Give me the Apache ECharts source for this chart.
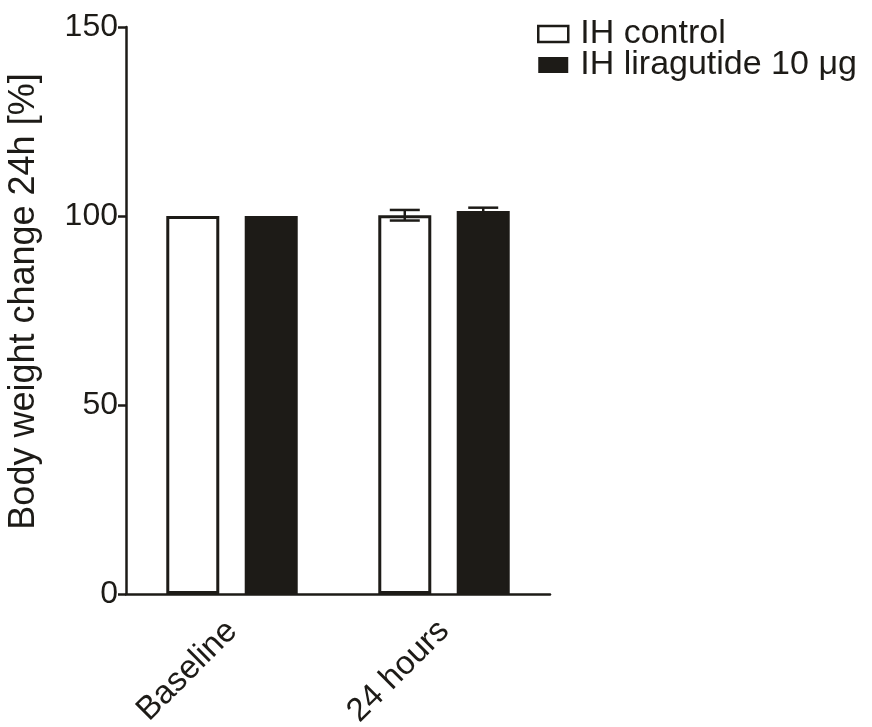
<!DOCTYPE html>
<html>
<head>
<meta charset="utf-8">
<script src="https://cdn.jsdelivr.net/npm/echarts@6/dist/echarts.min.js"></script>
<style>html,body{margin:0;padding:0;background:#fff}#c{width:872px;height:727px}</style>
</head>
<body>
<div id="c"></div>
<script>
var categories = ['Baseline', '24 hours'];
var seriesNames = ['IH control', 'IH liragutide 10 μg'];
var controlMean = [100, 100.2];
var controlErr = [0, 1.4];
var liraMean = [100, 101.3];
var liraErr = [0, 0.9];
var yTicks = [0, 50, 100, 150];

var INK = '#1d1b17';
var BAR_W = 53;
var BAR_GAP = 0.48;
var FONT = 'Liberation Sans, Arial, sans-serif';

function errSeries(name, means, errs, sign) {
  var data = means.map(function (m, i) { return [i, m, errs[i]]; });
  return {
    type: 'custom',
    name: name + ' err',
    z: 10,
    silent: true,
    data: data,
    renderItem: function (params, api) {
      var i = api.value(0), m = api.value(1), e = api.value(2);
      if (!e) return null;
      var off = sign * (BAR_W * (1 + BAR_GAP)) / 2;
      var hi = api.coord([i, m + e]);
      var lo = api.coord([i, m - e]);
      var x = hi[0] + off;
      var cap = 15;
      return {
        type: 'group',
        children: [
          {type: 'line', shape: {x1: x, y1: hi[1], x2: x, y2: lo[1]}, style: {stroke: INK, lineWidth: 2.5}},
          {type: 'line', shape: {x1: x - cap, y1: hi[1], x2: x + cap, y2: hi[1]}, style: {stroke: INK, lineWidth: 2.5}},
          {type: 'line', shape: {x1: x - cap, y1: lo[1], x2: x + cap, y2: lo[1]}, style: {stroke: INK, lineWidth: 2.5}}
        ]
      };
    }
  };
}

var chart = echarts.init(document.getElementById('c'), null, {renderer: 'canvas'});
chart.setOption({
  animation: false,
  textStyle: {fontFamily: FONT},
  grid: {left: 126, right: 322, top: 27, bottom: 133, containLabel: false, outerBoundsMode: 'none'},
  legend: {
    orient: 'vertical',
    left: 532,
    top: 12,
    itemWidth: 30,
    itemHeight: 16,
    itemGap: -3,
    icon: 'rect',
    textStyle: {fontSize: 34, color: INK, fontFamily: FONT, padding: [0, 0, 0, 7]},
    data: [
      {name: seriesNames[0], itemStyle: {color: '#fff', borderColor: INK, borderWidth: 2.5}},
      {name: seriesNames[1], itemStyle: {color: INK, borderColor: INK, borderWidth: 0}}
    ]
  },
  xAxis: {
    type: 'category',
    data: categories,
    axisLine: {lineStyle: {color: INK, width: 2.5}},
    axisTick: {alignWithLabel: true, length: 9, lineStyle: {color: INK, width: 2.5}},
    axisLabel: {rotate: 45, fontSize: 33, color: INK, margin: 32, fontFamily: FONT}
  },
  yAxis: {
    type: 'value',
    min: yTicks[0],
    max: yTicks[yTicks.length - 1],
    interval: 50,
    name: 'Body weight change 24h [%]',
    nameLocation: 'middle',
    nameGap: 84,
    nameTextStyle: {fontSize: 36, color: INK, fontFamily: FONT, padding: [0, 0, 0, 18]},
    splitLine: {show: false},
    axisLine: {show: true, lineStyle: {color: INK, width: 2.5}},
    axisTick: {show: true, length: 8, lineStyle: {color: INK, width: 2.5}},
    axisLabel: {fontSize: 32, color: INK, margin: 8, fontFamily: FONT}
  },
  series: [
    {
      type: 'bar', name: seriesNames[0], data: controlMean,
      barWidth: BAR_W, barGap: (BAR_GAP * 100) + '%',
      itemStyle: {color: '#fff', borderColor: INK, borderWidth: 3}
    },
    {
      type: 'bar', name: seriesNames[1], data: liraMean,
      barWidth: BAR_W,
      itemStyle: {color: INK, borderColor: INK, borderWidth: 3}
    },
    errSeries(seriesNames[0], controlMean, controlErr, -1),
    errSeries(seriesNames[1], liraMean, liraErr, 1)
  ]
});
</script>
</body>
</html>
